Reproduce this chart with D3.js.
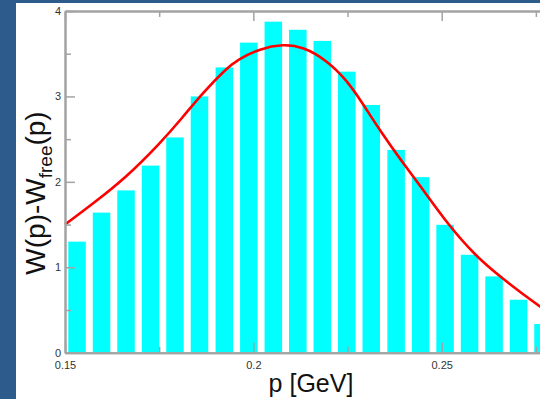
<!DOCTYPE html>
<html>
<head>
<meta charset="utf-8">
<script src="https://cdn.jsdelivr.net/npm/d3@7/dist/d3.min.js"></script>
<style>
  body { margin: 0; background: #2d5b8b; }
  svg { display: block; }
</style>
</head>
<body>
<div id="chart"></div>
<script>
// bar centres (p in GeV) and heights
const barP = [0.1532, 0.1597, 0.1662, 0.1727, 0.1792, 0.1857, 0.1923, 0.1988, 0.2053, 0.2118,
              0.2183, 0.2248, 0.2313, 0.2379, 0.2444, 0.2509, 0.2574, 0.2639, 0.2704, 0.2769];
const barW = [1.30, 1.64, 1.90, 2.19, 2.52, 3.00, 3.34, 3.63, 3.875, 3.78,
              3.65, 3.29, 2.90, 2.374, 2.055, 1.497, 1.146, 0.893, 0.62, 0.336];

// red fit curve
const curveP = [0.1500, 0.1575, 0.1664, 0.1752, 0.1810, 0.1867, 0.1929, 0.1956, 0.2018, 0.2079,
                0.2132, 0.2194, 0.2248, 0.2290, 0.2336, 0.2398, 0.2442, 0.2518, 0.2588, 0.2655,
                0.2761, 0.2795];
const curveW = [1.50, 1.747, 2.059, 2.450, 2.742, 3.05, 3.328, 3.425, 3.562, 3.612,
                3.581, 3.425, 3.191, 2.92, 2.600, 2.215, 1.96, 1.492, 1.142, 0.888,
                0.536, 0.44];

const xMajor = [0.15, 0.2, 0.25];
const xMinor = [0.175, 0.225, 0.275];
const yMajor = [0, 1, 2, 3, 4];
const yMinor = [0.5, 1.5, 2.5, 3.5];

const W = 540, H = 399;
const svg = d3.select("#chart").append("svg")
  .attr("width", W).attr("height", H);

// slide background
svg.append("rect").attr("width", W).attr("height", H).attr("fill", "#2d5b8b");
svg.append("rect").attr("x", 16).attr("y", 3).attr("width", W - 16).attr("height", H - 3)
  .attr("fill", "#ffffff");

// scales (frame runs off the right edge)
const x = d3.scaleLinear().domain([0.15, 0.29]).range([65, 65 + 0.14 * 3767]);
const y = d3.scaleLinear().domain([0, 4]).range([352.7, 11]);

const barWidth = x(0.15465) - x(0.15);

// bars
svg.append("g").selectAll("rect")
  .data(barP.map((p, i) => ({ p, w: barW[i] })))
  .join("rect")
  .attr("x", d => x(d.p) - barWidth / 2)
  .attr("y", d => y(d.w))
  .attr("width", barWidth)
  .attr("height", d => y(0) - y(d.w))
  .attr("fill", "#00ffff");

// fit curve
const line = d3.line()
  .x(d => x(d[0]))
  .y(d => y(d[1]))
  .curve(d3.curveBasis);

svg.append("path")
  .datum(curveP.map((p, i) => [p, curveW[i]]))
  .attr("d", line)
  .attr("fill", "none")
  .attr("stroke", "#ff0000")
  .attr("stroke-width", 2.6);

// --- axes (ticks point inward) ---
const axisColor = "#a3a3a3";
function styleAxis(g) {
  g.select(".domain").attr("stroke", axisColor).attr("stroke-width", 2);
  g.selectAll(".tick line").attr("stroke", axisColor).attr("stroke-width", 1.5);
  g.selectAll(".tick text")
    .attr("fill", "#333")
    .style("font-family", "'Liberation Sans', Arial, sans-serif")
    .style("font-size", "11px");
}

// minor ticks first
svg.append("g").attr("transform", `translate(0,${y(0)})`)
  .call(d3.axisBottom(x).tickValues(xMinor).tickSize(-6).tickSizeOuter(0).tickFormat(""))
  .call(styleAxis);
svg.append("g").attr("transform", `translate(0,${y(4)})`)
  .call(d3.axisTop(x).tickValues(xMinor).tickSize(-6).tickSizeOuter(0).tickFormat(""))
  .call(styleAxis);
svg.append("g").attr("transform", `translate(${x(0.15)},0)`)
  .call(d3.axisLeft(y).tickValues(yMinor).tickSize(-6).tickSizeOuter(0).tickFormat(""))
  .call(styleAxis);

// major ticks
svg.append("g").attr("transform", `translate(0,${y(0)})`)
  .call(d3.axisBottom(x).tickValues(xMajor).tickSize(-10).tickSizeOuter(0).tickPadding(5)
    .tickFormat(d3.format("")))
  .call(styleAxis)
  .selectAll(".tick text").attr("dy", "1.05em");
svg.append("g").attr("transform", `translate(0,${y(4)})`)
  .call(d3.axisTop(x).tickValues(xMajor).tickSize(-10).tickSizeOuter(0).tickFormat(""))
  .call(styleAxis);
svg.append("g").attr("transform", `translate(${x(0.15)},0)`)
  .call(d3.axisLeft(y).tickValues(yMajor).tickSize(-10).tickSizeOuter(0).tickPadding(4)
    .tickFormat(d3.format("d")))
  .call(styleAxis);

// axis titles
svg.append("text")
  .attr("x", 311).attr("y", 392)
  .attr("text-anchor", "middle")
  .style("font-family", "'Liberation Sans', Arial, sans-serif")
  .style("font-size", "25px")
  .attr("fill", "#111")
  .text("p [GeV]");

const yTitle = svg.append("text")
  .attr("transform", "translate(45,193) rotate(-90)")
  .attr("text-anchor", "middle")
  .style("font-family", "'Liberation Sans', Arial, sans-serif")
  .style("font-size", "28px")
  .attr("fill", "#111");
yTitle.append("tspan").text("W(p)-W");
yTitle.append("tspan").attr("dy", 7).style("font-size", "19px").text("free");
yTitle.append("tspan").attr("dy", -7).text("(p)");
</script>
</body>
</html>
